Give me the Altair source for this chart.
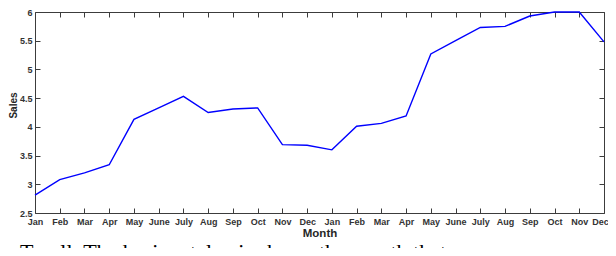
import altair as alt
import pandas as pd

MONTH_LABELS = ["Jan", "Feb", "Mar", "Apr", "May", "June", "July", "Aug", "Sep", "Oct", "Nov", "Dec",
                "Jan", "Feb", "Mar", "Apr", "May", "June", "July", "Aug", "Sep", "Oct", "Nov", "Dec"]
SALES = [2.81, 3.08, 3.20, 3.34, 4.13, 4.33, 4.53, 4.25, 4.31, 4.33, 3.69, 3.68,
         3.60, 4.01, 4.06, 4.19, 5.27, 5.50, 5.73, 5.75, 5.93, 6.00, 6.00, 5.48]
Y_TICKS = [2.5, 3, 3.5, 4, 4.5, 5, 5.5, 6]
CAPTION = ["Tmall. The horizontal axis shows the month that"]

df = pd.DataFrame({"idx": list(range(len(SALES))), "sales": SALES})
cap_df = pd.DataFrame({"t": CAPTION})

W, H = 569, 201
AX = "#3c3c3c"
FONT = "Liberation Sans"
LAST = len(SALES) - 1
XDOM = [0, LAST]
YDOM = [2.5, 6]
XVALS = list(range(len(SALES)))

label_expr = "[" + ",".join("'%s'" % m for m in MONTH_LABELS) + "][datum.value]"

def xs(axis):
    return alt.X("idx:Q", scale=alt.Scale(domain=XDOM, nice=False, zero=False), axis=axis)

def ys(axis):
    return alt.Y("sales:Q", scale=alt.Scale(domain=YDOM, nice=False, zero=False), axis=axis)

base = alt.Chart(df)

main = base.mark_line(color="#0000ff", strokeWidth=1.4).encode(
    x=xs(alt.Axis(orient="bottom", values=XVALS, labelExpr=label_expr, ticks=False, grid=False,
                  domainColor=AX, domainWidth=1, labelFont=FONT, labelFontSize=9,
                  labelFontWeight="bold", labelColor="#333333", labelPadding=4,
                  labelOffset={"condition": {"test": "datum.value == %d" % LAST, "value": -4}, "value": 0},
                  labelFlush=False, labelOverlap=False, title="Month", titleFont=FONT,
                  titleFontSize=11.5, titleFontWeight="bold", titleColor="#262626",
                  titlePadding=1)),
    y=ys(alt.Axis(orient="left", values=Y_TICKS, labelExpr="'' + datum.value", ticks=False,
                  grid=False, domainColor=AX, domainWidth=1, labelFont=FONT, labelFontSize=9,
                  labelFontWeight="bold", labelColor="#333333", labelPadding=3,
                  labelFlush=False, labelOverlap=False, title="Sales", titleFont=FONT,
                  titleFontSize=10, titleFontWeight="bold", titleColor="#262626",
                  titlePadding=1, titleY=93)),
)

ticks_in = base.mark_line(opacity=0).encode(
    x=xs(alt.Axis(orient="top", offset=-H, values=XVALS, labels=False, domain=False,
                  ticks=True, tickSize=5, tickColor=AX, tickWidth=1, grid=False, title=None)),
    y=ys(alt.Axis(orient="right", offset=-W, values=Y_TICKS, labels=False, domain=False,
                  ticks=True, tickSize=5, tickColor=AX, tickWidth=1, grid=False, title=None)),
)

box = base.mark_line(opacity=0).encode(
    x=xs(alt.Axis(orient="bottom", offset=-H, values=XVALS, labels=False, domain=True,
                  domainColor=AX, domainWidth=1, ticks=True, tickSize=5, tickColor=AX,
                  tickWidth=1, grid=False, title=None)),
    y=ys(alt.Axis(orient="left", offset=-W, values=Y_TICKS, labels=False, domain=True,
                  domainColor=AX, domainWidth=1, ticks=True, tickSize=5, tickColor=AX,
                  tickWidth=1, grid=False, title=None)),
)

caption = alt.Chart(cap_df).mark_text(
    font="Liberation Serif", fontSize=22, align="left", baseline="alphabetic", color="#000000"
).encode(x=alt.value(-15), y=alt.value(246.5), text="t:N")

chart = alt.layer(ticks_in, box, main, caption).resolve_scale(
    x="independent", y="independent"
).resolve_axis(x="independent", y="independent").properties(
    width=W, height=H,
    autosize=alt.AutoSizeParams(type="none"),
    padding={"left": 27, "top": 4, "right": 4, "bottom": 35},
).configure_view(stroke=None)

chart.save("out.html", embed_options={"renderer": "svg", "actions": False})
